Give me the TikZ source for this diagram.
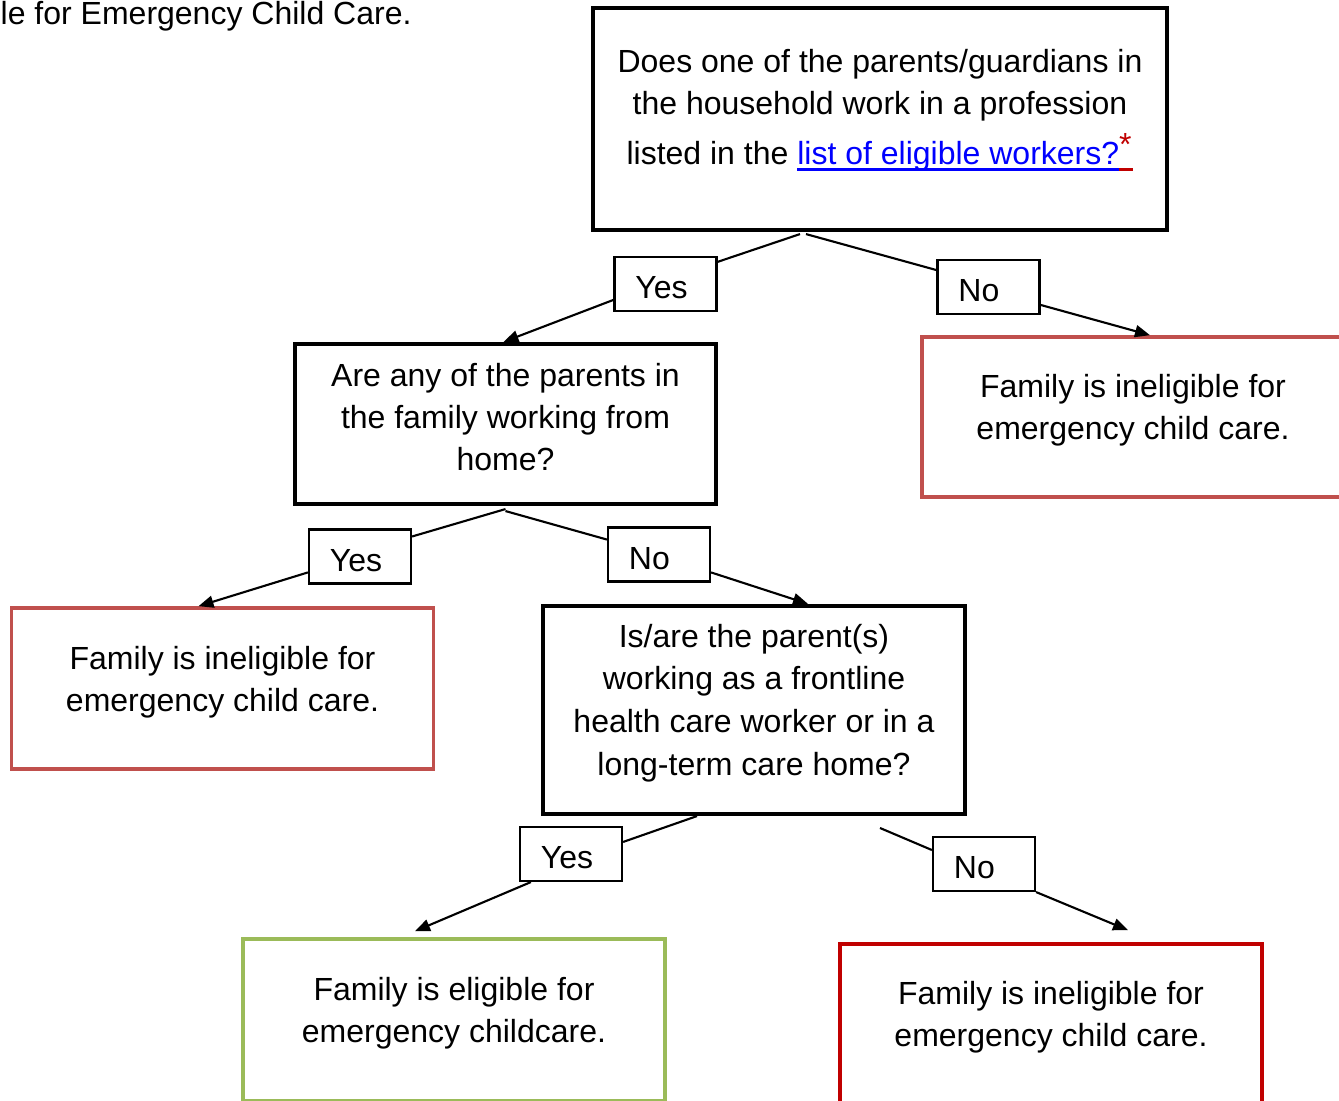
\documentclass[tikz,border=0pt]{standalone}
\usepackage{fontspec}
\setmainfont{Liberation Sans}
\usetikzlibrary{arrows.meta,calc}
\definecolor{softred}{HTML}{C0504D}
\definecolor{leafgreen}{HTML}{9BBB59}
\definecolor{darkred}{HTML}{C00000}
% coloured underline of a piece of text
\newcommand\ulcol[2]{\setbox0=\hbox{#2}\rlap{\textcolor{#1}{\rule[-1.9pt]{\wd0}{0.85pt}}}\box0}

\begin{document}
\begin{tikzpicture}[x=0.01cm,y=-0.01cm,
  every node/.style={font=\fontsize{9.1pt}{11.95pt}\selectfont},
  txt/.style={align=center, inner sep=0pt},
  qbox/.style={draw, line width=1.15pt, minimum width=4.22cm},
  rbox/.style={draw, line width=1pt, minimum width=4.22cm, minimum height=1.62cm},
  lbl/.style={draw, line width=0.6pt, text width=0.6cm, align=left,
              inner xsep=0.21cm, minimum height=0.54cm},
  link/.style={line width=0.6pt},
  arr/.style={line width=0.6pt, -{Triangle[length=0.15cm,width=0.12cm]}}]
\path[use as bounding box] (0,0) rectangle (1339,1101);
\clip (0,0) rectangle (1339,1101);
%\draw[help lines,step=100] (0,0) grid (1339,1101);

\node[anchor=base west, inner sep=0pt] (title) at (0,25) {le for Emergency Child Care.};

% question boxes
\node[qbox, minimum width=5.74cm, minimum height=2.22cm] (q1) at (880,119) {};
\node[txt] (q1t) at (880,110) {Does one of the parents/guardians in\\
  the household work in a profession\\[2.3pt]
  listed in the \textcolor{blue}{\ulcol{blue}{list of eligible workers?}}%
  \ulcol{darkred}{\textcolor{darkred}{\raisebox{2.5pt}{*}}\kern0.5pt}};

\node[qbox, minimum width=4.21cm, minimum height=1.60cm] (q2) at (505.5,424) {};
\node[txt] (q2t) at (505.5,417) {Are any of the parents in\\ the family working from\\ home?};

\node[qbox, minimum height=2.08cm] (q3) at (754,710) {};
\node[txt] (q3t) at (754,703) {Is/are the parent(s)\\[0.2pt] working as a frontline\\[0.2pt]
  health care worker or in a\\[0.2pt] long-term care home?};

% result boxes
\node[rbox, draw=softred, minimum height=1.60cm] (inelA) at (1133,417) {};
\node[txt] (inelAt) at (1133,410) {Family is ineligible for\\ emergency child care.};

\node[rbox, draw=softred, minimum height=1.61cm] (inelB) at (222.5,688.5) {};
\node[txt] (inelBt) at (222.5,682) {Family is ineligible for\\ emergency child care.};

\node[rbox, draw=leafgreen] (elig) at (454,1020) {};
\node[txt] (eligt) at (454,1013) {Family is eligible for\\ emergency childcare.};

\node[rbox, draw=darkred] (inelC) at (1051,1025) {};
\node[txt] (inelCt) at (1051,1017) {Family is ineligible for\\ emergency child care.};

% yes/no labels, text sits a little low in its box
\foreach \n/\x/\y/\t in {yesA/665.5/284/Yes, noA/988.5/287/No,
                         yesB/360/556.5/Yes, noB/659/554.5/No,
                         yesC/571/854/Yes, noC/984/864/No}
  \node[lbl] (\n) at (\x,\y) {\raisebox{-0.9pt}[6.5pt][0pt]{\t}};

\coordinate (q3no) at (880,828);

% connectors
\draw[link] ($(q1.south)+(-80,2)$) -- (yesA.23);
\draw[arr] (yesA.197) -- ($(q2.north)+(-2,0)$);
\draw[link] ($(q1.south)+(-74,2)$) -- (noA.162);
\draw[arr] (noA.341) -- ($(inelA.north)+(17,0)$);

\draw[link] ($(q2.south)+(0,3)$) -- (yesB.21);
\draw[arr] (yesB.197) -- ($(inelB.north)+(-24,0)$);
\draw[link] ($(q2.south)+(0,5)$) -- (noB.164);
\draw[arr] (noB.341) -- ($(q3.north)+(54,0)$);

\draw[link] ($(q3.south)+(-57,0)$) -- (yesC.13);
\draw[arr] (yesC.215) -- ($(elig.north)+(-39,-6)$);
\draw[link] (q3no) -- (noC.165);
\draw[arr] (noC.south east) -- ($(inelC.north)+(77,-12)$);
\end{tikzpicture}
\end{document}
